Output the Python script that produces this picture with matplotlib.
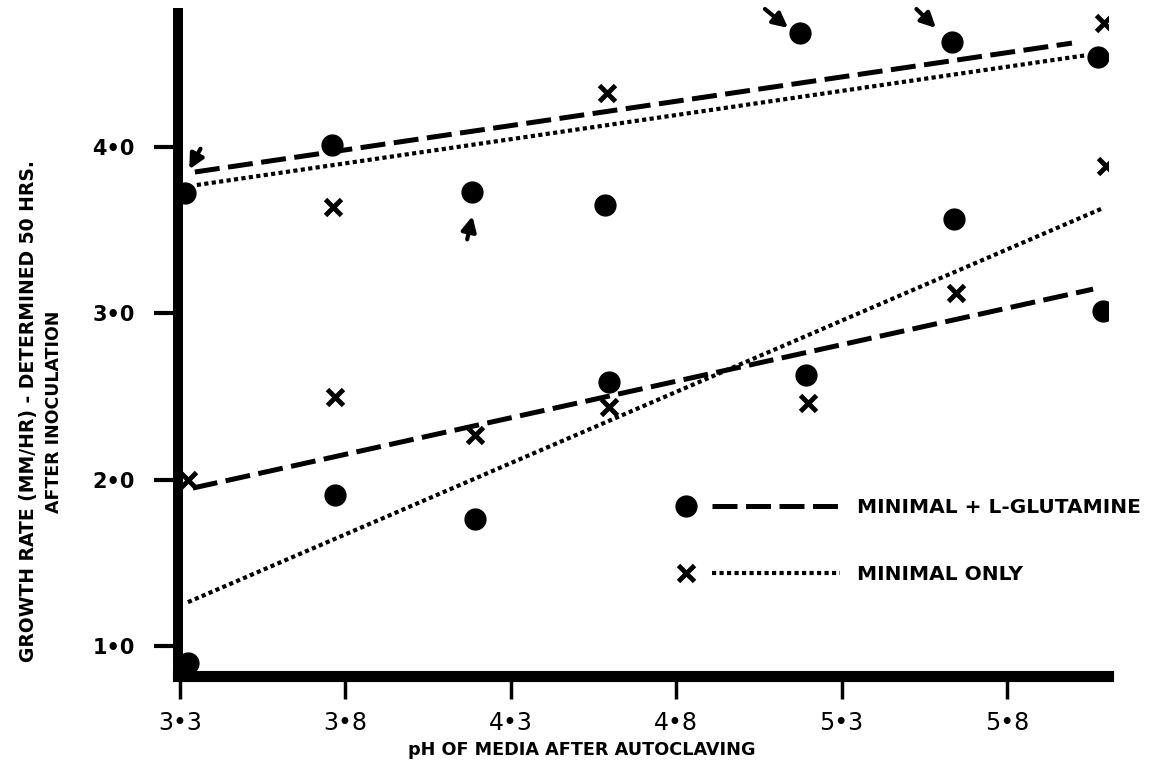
import matplotlib
matplotlib.use("Agg")
import matplotlib.pyplot as plt
from matplotlib.lines import Line2D
from matplotlib.legend_handler import HandlerTuple

# --- data ---
# minimal + L-glutamine (filled circles)
glut_ph = [3.315, 3.759, 4.183, 4.585, 5.174, 5.634, 6.075, 5.640, 6.090, 5.192, 4.597, 3.769, 4.192, 3.324]
glut_rate = [3.723, 4.012, 3.730, 3.651, 4.685, 4.631, 4.541, 3.567, 3.014, 2.629, 2.587, 1.907, 1.763, 0.898]

# minimal only (crosses)
min_ph = [3.324, 3.762, 3.769, 4.192, 4.591, 4.597, 5.198, 5.646, 6.093, 6.099]
min_rate = [1.998, 3.639, 2.497, 2.268, 4.325, 2.437, 2.461, 3.122, 4.746, 3.886]

# fitted lines (end points)
glut_fit_hi_ph = [3.345, 5.996]
glut_fit_hi_rate = [3.850, 4.625]
min_fit_hi_ph = [3.351, 6.042]
min_fit_hi_rate = [3.772, 4.553]
glut_fit_lo_ph = [3.339, 6.060]
glut_fit_lo_rate = [1.950, 3.146]
min_fit_lo_ph = [3.324, 6.090]
min_fit_lo_rate = [1.264, 3.633]

# hand-drawn arrows (tail -> head)
arrow_tails = [(3.362, 3.990), (4.168, 3.445), (5.068, 4.830), (5.526, 4.830)]
arrow_heads = [(3.328, 3.866), (4.184, 3.585), (5.138, 4.716), (5.585, 4.716)]

x_ticks = [3.3, 3.8, 4.3, 4.8, 5.3, 5.8]
x_tick_labels = ["3•3", "3•8", "4•3", "4•8", "5•3", "5•8"]
y_ticks = [1.0, 2.0, 3.0, 4.0]
y_tick_labels = ["1•0", "2•0", "3•0", "4•0"]

W, H = 1151, 770
fig = plt.figure(figsize=(W / 100, H / 100), dpi=100)
ax = fig.add_axes([178 / W, 1 - 676 / H, (1108 - 178) / W, (676 - 13) / H])

dash = dict(color="black", lw=3.6, dashes=(5, 1.7), dash_capstyle="butt")
dot = dict(color="black", lw=3.0, dashes=(1, 0.8), dash_capstyle="butt")

ax.plot(glut_fit_hi_ph, glut_fit_hi_rate, **dash)
ax.plot(glut_fit_lo_ph, glut_fit_lo_rate, **dash)
ax.plot(min_fit_hi_ph, min_fit_hi_rate, **dot)
ax.plot(min_fit_lo_ph, min_fit_lo_rate, **dot)

ax.plot(glut_ph, glut_rate, "o", color="black", ms=15, zorder=2.2)
ax.plot(min_ph, min_rate, "x", color="black", ms=12, mew=3.5, zorder=2.2)

for tail, head in zip(arrow_tails, arrow_heads):
    ax.annotate("", xy=head, xytext=tail, annotation_clip=False,
                arrowprops=dict(arrowstyle="-|>", color="black", lw=3,
                                mutation_scale=22, shrinkA=0, shrinkB=0))

ax.set_xlim(3.294, 6.105)
ax.set_ylim(0.82, 4.806)

for s in ["top", "right"]:
    ax.spines[s].set_visible(False)
ax.spines["left"].set_linewidth(7.2)
ax.spines["bottom"].set_linewidth(8.0)

ax.set_xticks(x_ticks)
ax.set_xticklabels(x_tick_labels, fontsize=17)
ax.set_yticks(y_ticks)
ax.set_yticklabels(y_tick_labels, fontsize=15, fontweight="bold")
ax.tick_params(axis="x", length=16.5, width=2.5, pad=9)
ax.tick_params(axis="y", length=17, width=3, pad=14)

fig.text(582 / W, 1 - 750 / H, "pH OF MEDIA AFTER AUTOCLAVING",
         fontsize=12.7, fontweight="bold", ha="center", va="center")
fig.text(29 / W, 1 - 411 / H, "GROWTH RATE (MM/HR) - DETERMINED 50 HRS.",
         fontsize=13.5, fontweight="bold", rotation=90, ha="center", va="center")
fig.text(54 / W, 1 - 412 / H, "AFTER INOCULATION",
         fontsize=12.5, fontweight="bold", rotation=90, ha="center", va="center")

# legend: marker, then line, then text
h_glut = (Line2D([], [], marker="o", ls="none", color="black", ms=15),
          Line2D([], [], **dash))
h_min = (Line2D([], [], marker="x", ls="none", color="black", ms=12, mew=3.5),
         Line2D([], [], **dot))
ax.legend([h_glut, h_min], ["MINIMAL + L-GLUTAMINE", "MINIMAL ONLY"],
          handler_map={tuple: HandlerTuple(ndivide=2, pad=-1.9)},
          prop=dict(size=14.5, weight="bold"), frameon=False,
          handlelength=10.8, handletextpad=0.85, labelspacing=2.4,
          borderpad=0, borderaxespad=0, loc="upper left",
          bbox_to_anchor=(622 / W, 1 - 498 / H), bbox_transform=fig.transFigure)

fig.savefig("out.png", dpi=100)
